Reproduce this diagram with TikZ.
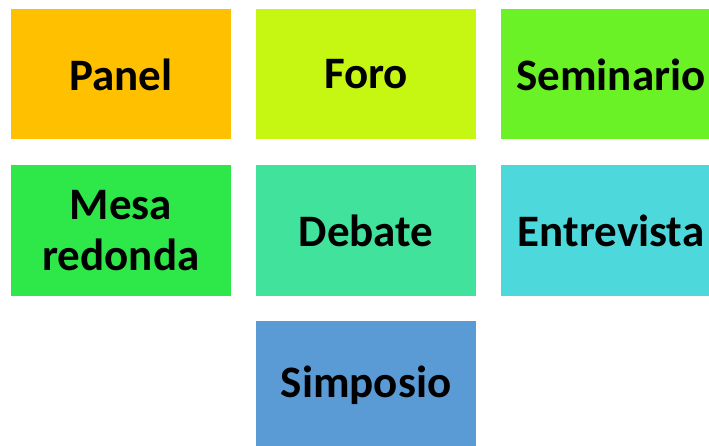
\documentclass[tikz,border=0pt]{standalone}
\usepackage{fontspec}
\setmainfont{Carlito}
\usepackage{tikz}
\definecolor{cpanel}{HTML}{FFC000}
\definecolor{cforo}{HTML}{C6F712}
\definecolor{cseminario}{HTML}{6AF226}
\definecolor{cmesa}{HTML}{2EE84A}
\definecolor{cdebate}{HTML}{41E39C}
\definecolor{centrevista}{HTML}{4DD9DC}
\definecolor{csimposio}{HTML}{5B9BD5}

\begin{document}
\begin{tikzpicture}[x=1pt, y=-1pt, tipo/.style={rectangle, minimum width=220pt, minimum height=130pt, inner sep=0pt, align=center, font=\fontsize{45}{51}\selectfont\bfseries}]
		\useasboundingbox (0, 0) rectangle (709, 446);
		\clip (0, 0) rectangle (709, 446);
		% primera fila
		\node[tipo, fill=cpanel] (panel) at (121, 74.5) {Panel};
		\node[tipo, fill=cforo] (foro) at (366, 74.5) {Foro};
		\node[tipo, fill=cseminario] (seminario) at (611, 74.5) {Seminario};
		% segunda fila
		\node[tipo, fill=cmesa] (mesa) at (121, 230.5) {Mesa\\redonda};
		\node[tipo, fill=cdebate] (debate) at (366, 230.5) {Debate};
		\node[tipo, fill=centrevista] (entrevista) at (611, 230.5) {Entrevista};
		% tercera fila
		\node[tipo, fill=csimposio] (simposio) at (366, 385.5) {Simposio};
\end{tikzpicture}
\end{document}
